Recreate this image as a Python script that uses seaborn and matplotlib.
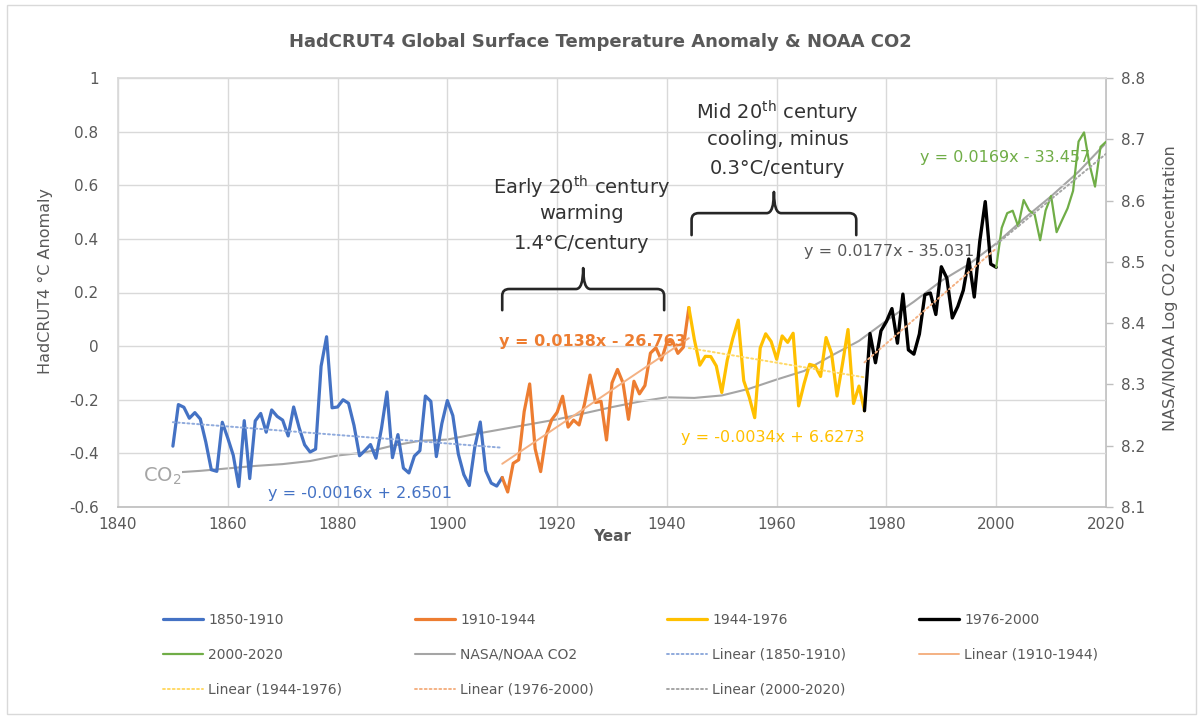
import matplotlib
matplotlib.use("Agg")
import matplotlib.pyplot as plt
from matplotlib.path import Path
from matplotlib.patches import PathPatch, Rectangle
from matplotlib.ticker import FuncFormatter
import numpy as np
import pandas as pd
import seaborn as sns

# ---------------- data ----------------
YEARS = list(range(1850, 2021))
ANOMALY = [
    -0.373, -0.218, -0.228, -0.269, -0.248, -0.272, -0.358, -0.461, -0.467, -0.284,   # 1850s
    -0.343, -0.407, -0.524, -0.278, -0.494, -0.279, -0.251, -0.321, -0.238, -0.262,   # 1860s
    -0.276, -0.335, -0.227, -0.304, -0.368, -0.395, -0.384, -0.075, 0.035, -0.230,    # 1870s
    -0.227, -0.200, -0.213, -0.296, -0.409, -0.389, -0.367, -0.418, -0.307, -0.171,   # 1880s
    -0.416, -0.330, -0.455, -0.473, -0.410, -0.390, -0.186, -0.206, -0.412, -0.289,   # 1890s
    -0.203, -0.259, -0.402, -0.479, -0.520, -0.377, -0.283, -0.465, -0.511, -0.522,   # 1900s
    -0.490, -0.544, -0.437, -0.424, -0.244, -0.141, -0.383, -0.468, -0.333, -0.275,   # 1910s
    -0.247, -0.187, -0.302, -0.276, -0.294, -0.215, -0.108, -0.210, -0.206, -0.350,   # 1920s
    -0.137, -0.087, -0.137, -0.273, -0.131, -0.178, -0.147, -0.026, -0.006, -0.052,   # 1930s
    0.014, 0.020, -0.027, -0.004, 0.144, 0.025, -0.071, -0.038, -0.039, -0.074,       # 1940s
    -0.173, -0.052, 0.028, 0.097, -0.129, -0.190, -0.267, -0.007, 0.046, 0.017,       # 1950s
    -0.049, 0.038, 0.014, 0.048, -0.223, -0.140, -0.068, -0.074, -0.113, 0.032,       # 1960s
    -0.027, -0.186, -0.065, 0.062, -0.214, -0.149, -0.241, 0.047, -0.062, 0.057,      # 1970s
    0.092, 0.140, 0.011, 0.194, -0.014, -0.030, 0.045, 0.192, 0.198, 0.118,           # 1980s
    0.296, 0.254, 0.105, 0.148, 0.208, 0.325, 0.183, 0.390, 0.539, 0.306,             # 1990s
    0.294, 0.441, 0.496, 0.505, 0.447, 0.545, 0.506, 0.491, 0.395, 0.506,             # 2000s
    0.560, 0.425, 0.470, 0.514, 0.579, 0.763, 0.797, 0.677, 0.595, 0.743,             # 2010s
    0.762,                                                                            # 2020
]

PERIOD_LABELS = ["1850-1910", "1910-1944", "1944-1976", "1976-2000", "2000-2020"]
PERIOD_START = [1850, 1910, 1944, 1976, 2000]
PERIOD_END = [1910, 1944, 1976, 2000, 2020]
PERIOD_COLORS = ["#4472C4", "#ED7D31", "#FFC000", "#000000", "#70AD47"]
PERIOD_WIDTHS = [2.3, 2.3, 2.3, 2.4, 1.6]

TREND_LABELS = ["Linear (1850-1910)", "Linear (1910-1944)", "Linear (1944-1976)",
                "Linear (1976-2000)", "Linear (2000-2020)"]
TREND_COLORS = ["#8FAADC", "#F4B183", "#FFD966", "#F4B183", "#A5A5A5"]
TREND_STYLES = [(0, (1, 1.5)), "-", (0, (1, 1.5)), (0, (1, 1.5)), (0, (1, 1.5))]

EQUATIONS = ["y = -0.0016x + 2.6501", "y = 0.0138x - 26.763", "y = -0.0034x + 6.6273",
             "y = 0.0177x - 35.031", "y = 0.0169x - 33.457"]
EQ_COLORS = ["#4472C4", "#ED7D31", "#FFC000", "#595959", "#70AD47"]
EQ_X = [1884.0, 1926.5, 1959.3, 1980.4, 2001.6]
EQ_Y = [-0.549, 0.019, -0.340, 0.354, 0.705]
EQ_WEIGHT = ["normal", "bold", "normal", "normal", "normal"]

CO2_YEARS = list(range(1850, 2021, 5))
CO2_LOG = [8.156, 8.159, 8.163, 8.167, 8.170, 8.175, 8.184, 8.189, 8.200, 8.208,
           8.210, 8.219, 8.227, 8.235, 8.243, 8.253, 8.263, 8.272, 8.279, 8.278,
           8.282, 8.293, 8.308, 8.322, 8.347, 8.371, 8.404, 8.435, 8.469, 8.496,
           8.530, 8.570, 8.607, 8.647, 8.694]

TITLE = "HadCRUT4 Global Surface Temperature Anomaly & NOAA CO2"
EARLY_LINES = ["Early 20$^{\\mathrm{th}}$ century", "warming", "1.4°C/century"]
MID_LINES = ["Mid 20$^{\\mathrm{th}}$ century", "cooling, minus", "0.3°C/century"]

# ---------------- style ----------------
sns.set_theme(style="white")
plt.rcParams["font.family"] = ["DejaVu Sans"]
plt.rcParams["mathtext.fontset"] = "dejavusans"

TXT = "#595959"
GRID = "#D9D9D9"

fig = plt.figure(figsize=(12.03, 7.18), dpi=100, facecolor="white")
ax = fig.add_axes([118 / 1203, 1 - 507 / 718, 988 / 1203, 429 / 718])
ax2 = ax.twinx()

df = pd.DataFrame({"Year": YEARS, "Anomaly": ANOMALY})
co2 = pd.DataFrame({"Year": CO2_YEARS, "LogCO2": CO2_LOG})

series_lines = []
trend_lines = []
for lab, a, b, c, lw, tlab, tc, ts in zip(PERIOD_LABELS, PERIOD_START, PERIOD_END,
                                          PERIOD_COLORS, PERIOD_WIDTHS, TREND_LABELS,
                                          TREND_COLORS, TREND_STYLES):
    sub = df[(df["Year"] >= a) & (df["Year"] <= b)]
    sns.lineplot(data=sub, x="Year", y="Anomaly", ax=ax, color=c, lw=lw,
                 legend=False, errorbar=None, solid_joinstyle="round",
                 solid_capstyle="round", zorder=3)
    ln = ax.lines[-1]
    ln.set_label(lab)
    series_lines.append(ln)
    sns.regplot(data=sub, x="Year", y="Anomaly", ax=ax, scatter=False, ci=None,
                truncate=True, label=tlab,
                line_kws=dict(color=tc, lw=1.4, ls=ts, zorder=4,
                              dash_capstyle="round"))
    tl = ax.lines[-1]
    tl.set_label(tlab)
    trend_lines.append(tl)

sns.lineplot(data=co2, x="Year", y="LogCO2", ax=ax2, color="#A5A5A5", lw=1.5,
             legend=False, errorbar=None)
co2_line = ax2.lines[-1]
co2_line.set_label("NASA/NOAA CO2")

ax.set_zorder(ax2.get_zorder() + 1)
ax.patch.set_visible(False)

# axes
ax.set_xlim(1840, 2020)
ax.set_xticks(range(1840, 2021, 20))
ax.set_ylim(-0.6, 1.0)
ax.set_yticks(np.round(np.arange(-0.6, 1.01, 0.2), 1))


def fmt_left(v, pos):
    s = f"{v:.1f}"
    if s in ("0.0", "-0.0"):
        return "0"
    if s.endswith(".0"):
        return s[:-2]
    return s


ax.yaxis.set_major_formatter(FuncFormatter(fmt_left))
ax2.set_ylim(8.1, 8.8)
ax2.set_yticks(np.round(np.arange(8.1, 8.81, 0.1), 1))
ax2.yaxis.set_major_formatter(FuncFormatter(lambda v, p: f"{v:.1f}"))

ax.grid(True, color=GRID, lw=1)
ax2.grid(False)
for s in ["left", "top"]:
    ax.spines[s].set_color(GRID)
ax.spines["bottom"].set_color("#BFBFBF")
ax.spines["right"].set_visible(False)
for s in ["left", "top", "bottom"]:
    ax2.spines[s].set_visible(False)
ax2.spines["right"].set_color("#BFBFBF")

ax.tick_params(axis="both", length=0, labelsize=11, labelcolor=TXT)
ax.tick_params(axis="y", pad=14)
ax.tick_params(axis="x", pad=7)
ax2.tick_params(axis="y", length=5, width=1, color="#BFBFBF", labelsize=11,
                labelcolor=TXT, pad=6)

ax.set_xlabel("Year", fontsize=11, fontweight="bold", color=TXT)
ax.xaxis.set_label_coords(0.5, -0.052)
ax.set_ylabel("HadCRUT4 °C Anomaly", fontsize=11.5, color=TXT)
ax.yaxis.set_label_coords(-0.066, 0.527)
ax2.set_ylabel("NASA/NOAA Log CO2 concentration", fontsize=11.5, color=TXT)
ax2.yaxis.set_label_coords(1.058, 0.51)

fig.text(0.499, 1 - 42 / 718, TITLE, ha="center", va="center", fontsize=13,
         fontweight="bold", color=TXT)

# trend equations
for eq, c, x, y, w in zip(EQUATIONS, EQ_COLORS, EQ_X, EQ_Y, EQ_WEIGHT):
    ax.text(x, y, eq, color=c, fontsize=11.5, fontweight=w, ha="center",
            va="center", zorder=6)

# CO2 label
ax.text(1848, -0.485, "CO$_2$", fontsize=14, color="#A5A5A5", ha="center",
        va="center", zorder=5,
        bbox=dict(fc="white", ec="none", pad=0.3))


# braces
def brace(axis, x0, x1, ybar, yend, ytip, dx=1.3, dy=0.025):
    xm = (x0 + x1) / 2
    verts = [(x0, yend), (x0, ybar - dy), (x0, ybar), (x0 + dx, ybar),
             (xm - dx, ybar), (xm, ybar), (xm, ytip),
             (xm, ybar), (xm + dx, ybar),
             (x1 - dx, ybar), (x1, ybar), (x1, ybar - dy), (x1, yend)]
    codes = [Path.MOVETO, Path.LINETO, Path.CURVE3, Path.CURVE3,
             Path.LINETO, Path.CURVE3, Path.CURVE3,
             Path.CURVE3, Path.CURVE3,
             Path.LINETO, Path.CURVE3, Path.CURVE3, Path.LINETO]
    axis.add_patch(PathPatch(Path(verts, codes), fill=False, ec="#262626",
                             lw=1.9, zorder=6, capstyle="round",
                             joinstyle="round"))


brace(ax, 1910.0, 1939.5, 0.213, 0.134, 0.291)
brace(ax, 1944.5, 1974.5, 0.496, 0.414, 0.575)

for txt, y in zip(EARLY_LINES, [0.593, 0.496, 0.384]):
    ax.text(1924.5, y, txt, fontsize=14, color="#333333", ha="center",
            va="center", zorder=6)
for txt, y in zip(MID_LINES, [0.873, 0.769, 0.664]):
    ax.text(1960.2, y, txt, fontsize=14, color="#333333", ha="center",
            va="center", zorder=6)

# legend (row-major order like the reference)
P, L = series_lines, trend_lines
order = [P[0], P[4], L[2], P[1], co2_line, L[3], P[2], L[0], L[4], P[3], L[1]]
fig.legend(order, [h.get_label() for h in order], loc="upper left",
           bbox_to_anchor=(163 / 1203, 1 - 613 / 718, (1098 - 163) / 1203, 0.0),
           mode="expand", ncol=4, frameon=False, fontsize=10, handlelength=2.9,
           handletextpad=0.35, labelspacing=1.5, borderaxespad=0, borderpad=0,
           labelcolor=TXT)

fig.patches.append(Rectangle((7 / 1203, 4 / 718), 1189 / 1203, 709 / 718,
                             transform=fig.transFigure, fill=False,
                             ec=GRID, lw=1))

fig.savefig("out.png", dpi=100, facecolor="white")
